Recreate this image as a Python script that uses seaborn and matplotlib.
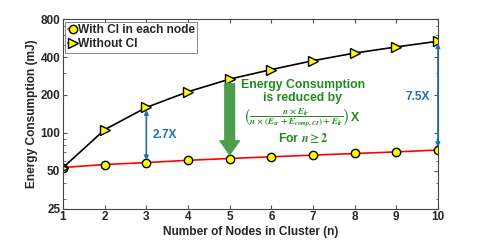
import numpy as np
import pandas as pd
import matplotlib
matplotlib.use("Agg")
import matplotlib.pyplot as plt
from matplotlib.ticker import LogLocator, NullFormatter
import seaborn as sns

# values
nodes = [1, 2, 3, 4, 5, 6, 7, 8, 9, 10]
with_ci = [53, 56, 58, 60.5, 62.5, 64.5, 66.5, 68.5, 70.5, 73]
without_ci = [53, 106, 159, 212, 267, 318, 374, 430, 481, 534]
yticks = [25, 50, 100, 200, 400, 800]
ratio_labels = ["2.7X", "7.5X"]

df = pd.DataFrame({"n": nodes, "with_ci": with_ci, "without_ci": without_ci})

sns.set_style("ticks", {"xtick.direction": "in", "ytick.direction": "in"})
plt.rcParams["font.family"] = ["Liberation Sans", "DejaVu Sans"]
plt.rcParams["font.weight"] = "bold"
plt.rcParams["axes.labelweight"] = "bold"
plt.rcParams["mathtext.fontset"] = "stix"

fig = plt.figure(figsize=(4.85, 2.42), dpi=100)
ax = fig.add_axes([0.13, 0.138, 0.773, 0.783])

sns.lineplot(data=df, x="n", y="with_ci", ax=ax, color="red", lw=1.2,
             marker="o", markersize=6, markerfacecolor="yellow",
             markeredgecolor="black", markeredgewidth=1.0,
             label="With CI in each node")
sns.lineplot(data=df, x="n", y="without_ci", ax=ax, color="black", lw=1.2,
             marker=">", markersize=6.5, markerfacecolor="yellow",
             markeredgecolor="black", markeredgewidth=1.0,
             label="Without CI")

ax.set_yscale("log", base=2)
ax.set_ylim(25, 800)
ax.set_xlim(1, 10)
ax.set_yticks(yticks)
ax.set_yticklabels([str(t) for t in yticks])
ax.yaxis.set_minor_locator(LogLocator(base=10, subs=np.arange(2, 10)))
ax.yaxis.set_minor_formatter(NullFormatter())
ax.set_xticks(nodes)
ax.tick_params(which="both", top=True, right=True, color="#555555",
               labelsize=8.5, pad=2)
ax.tick_params(which="major", length=3)
ax.tick_params(which="minor", length=1.8)
for s in ax.spines.values():
    s.set_color("#444444")
    s.set_linewidth(0.8)

ax.set_xlabel("Number of Nodes in Cluster (n)", fontsize=8.6, labelpad=2)
ax.set_ylabel("Energy Consumption (mJ)", fontsize=8.6, labelpad=2)

leg = ax.legend(loc="upper left", fontsize=8.6, frameon=True, fancybox=False,
                edgecolor="#888888", framealpha=1, borderpad=0.2,
                handlelength=0.8, handletextpad=0.05, labelspacing=0.2,
                borderaxespad=0.2)
leg.get_frame().set_linewidth(0.7)

# blue ratio arrows
blue = "#1f6fb4"
ax.annotate("", xy=(3, 60.5), xytext=(3, 152),
            arrowprops=dict(arrowstyle="<|-|>", color=blue, lw=1.2,
                            mutation_scale=6, shrinkA=0, shrinkB=0))
ax.annotate("", xy=(10, 77), xytext=(10, 515),
            arrowprops=dict(arrowstyle="<|-|>", color=blue, lw=1.2,
                            mutation_scale=6, shrinkA=0, shrinkB=0))
ax.text(0.271, 0.388, ratio_labels[0], transform=ax.transAxes, color=blue,
        fontsize=8.6, ha="center", va="center")
ax.text(0.947, 0.588, ratio_labels[1], transform=ax.transAxes, color=blue,
        fontsize=8.6, ha="center", va="center")

# green reduction arrow and text
green_arrow = "#4c9e4c"
green_text = "#1f8a1f"
ax.annotate("", xy=(5, 67), xytext=(5, 245),
            arrowprops=dict(width=7, headwidth=14, headlength=10,
                            color=green_arrow, shrink=0))
ax.text(0.64, 0.652, "Energy Consumption", transform=ax.transAxes,
        color=green_text, fontsize=8.8, ha="center", va="center")
ax.text(0.64, 0.583, "is reduced by", transform=ax.transAxes,
        color=green_text, fontsize=8.8, ha="center", va="center")
ax.text(0.765, 0.478,
        r"$\left(\dfrac{n\times E_{lr}}{n\times(E_{sr}+E_{comp,CI})+E_{lr}}\right)$",
        transform=ax.transAxes, color=green_text, fontsize=6.6,
        ha="right", va="center")
ax.text(0.767, 0.478, "X", transform=ax.transAxes, color=green_text,
        fontsize=8.8, ha="left", va="center")
ax.text(0.64, 0.372, r"For $n\geq 2$", transform=ax.transAxes,
        color=green_text, fontsize=8.8, ha="center", va="center")

fig.savefig("out.png", dpi=100)
